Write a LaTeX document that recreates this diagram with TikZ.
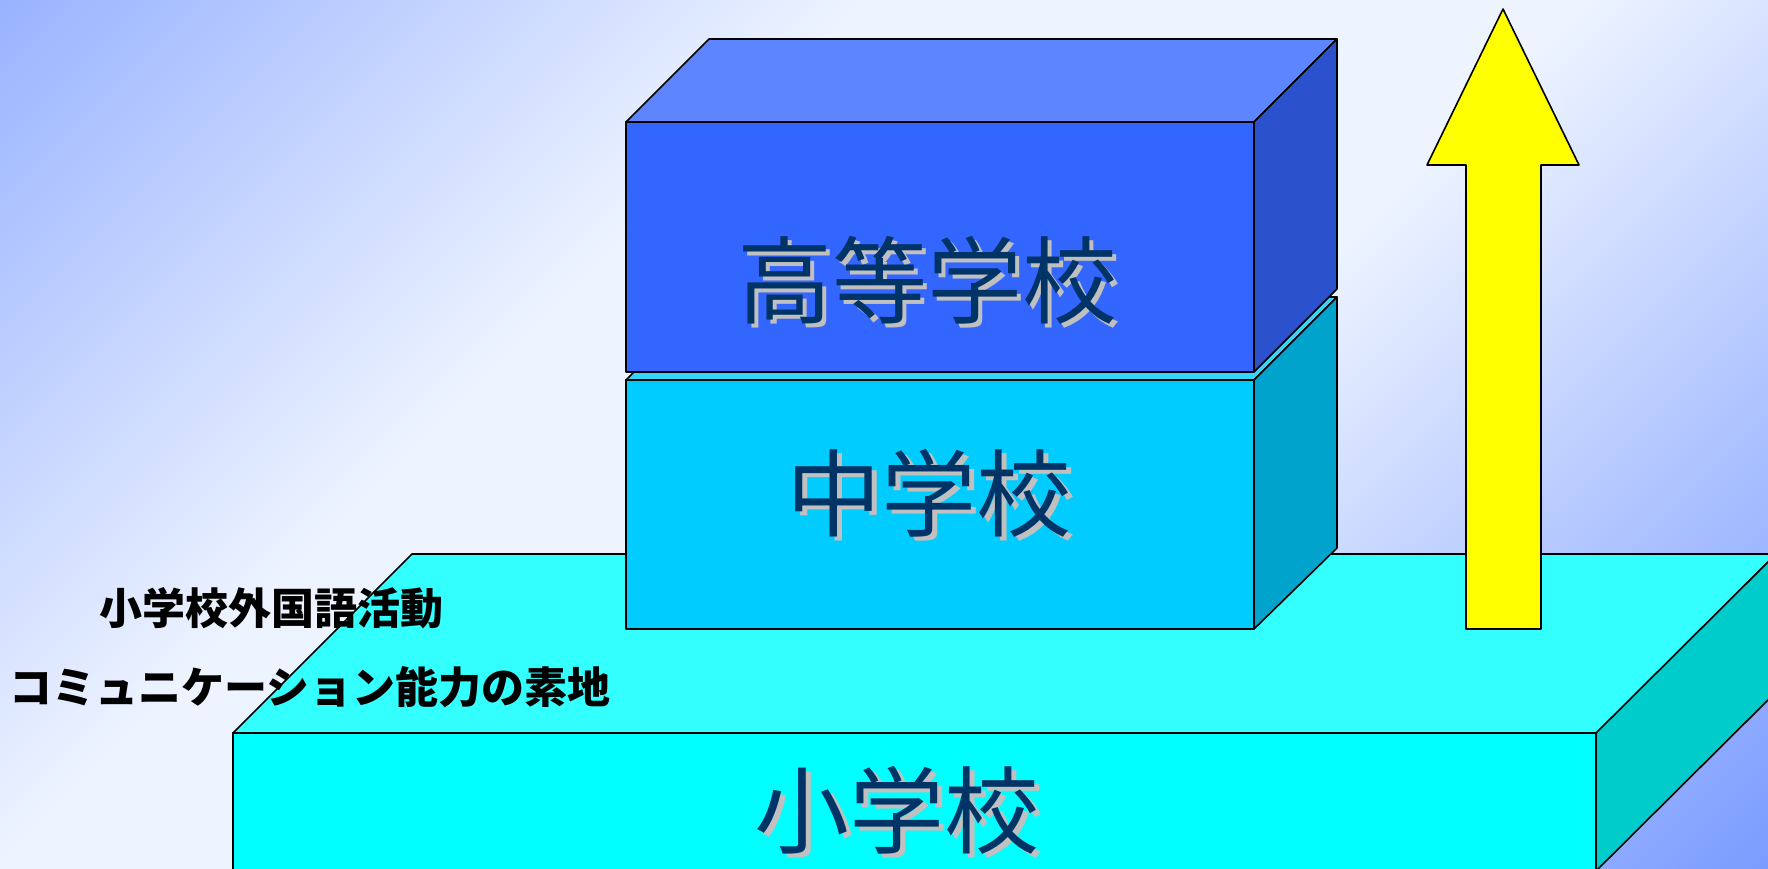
\documentclass[tikz,border=0pt]{standalone}
\usepackage{fontspec}
\newfontfamily\jpfont{Noto Sans CJK JP}

\definecolor{bgtl}{HTML}{99B3FF}
\definecolor{bgmid}{HTML}{EEF4FF}
\definecolor{bgbr}{HTML}{7B9CFF}
\definecolor{elemfront}{HTML}{00FFFF}
\definecolor{elemtop}{HTML}{33FFFF}
\definecolor{elemside}{HTML}{00CCCC}
\definecolor{midfront}{HTML}{00CCFF}
\definecolor{midtop}{HTML}{33D6FF}
\definecolor{midside}{HTML}{00A3CC}
\definecolor{highfront}{HTML}{3366FF}
\definecolor{hightop}{HTML}{5C85FF}
\definecolor{highside}{HTML}{2B52CC}
\definecolor{navy}{HTML}{003366}
\definecolor{shadowgray}{HTML}{C0C0C0}
\definecolor{arrowyellow}{HTML}{FFFF00}

\pgfdeclarehorizontalshading{bgfade}{100bp}{color(0bp)=(bgtl); color(14.6bp)=(bgtl); color(38bp)=(bgmid); color(57bp)=(bgmid); color(85.4bp)=(bgbr); color(100bp)=(bgbr)}

% text with a grey drop shadow
\newcommand{\shadowed}[1]{\rlap{\smash{\hspace{4.5pt}\raisebox{-4.5pt}{\color{shadowgray}#1}}}#1}

\tikzset{
  face/.style={draw=black, line width=1.6pt, line join=round},
  boxtext/.style={text=navy, inner sep=0pt, font=\jpfont\fontsize{95}{95}\selectfont},
  notetext/.style={text=black, inner sep=0pt, font=\jpfont\bfseries\fontsize{43}{43}\selectfont}
}

\begin{document}
\begin{tikzpicture}[x=1pt, y=-1pt]
        \useasboundingbox (0,0) rectangle (1768,868);
        \clip (0,0) rectangle (1768,868);
        \shade[shading=bgfade, shading angle=-45] (0,0) rectangle (1768,868);

        % 小学校
        \draw[face, fill=elemtop] (233,733) -- (412,554) -- (1776,554) -- (1597,733) -- cycle;
        \draw[face, fill=elemside] (1596,733) -- (1776,554) -- (1776,692) -- (1596,871) -- cycle;
        \draw[face, fill=elemfront] (233,733) rectangle (1596,871);

        % arrow
        \draw[face, fill=arrowyellow] (1466,629) -- (1466,165) -- (1427,165) -- (1503,9) -- (1579,165) -- (1541,165) -- (1541,629) -- cycle;

        % 中学校
        \draw[face, fill=midtop] (626,380) -- (709,297) -- (1337,297) -- (1254,380) -- cycle;
        \draw[face, fill=midside] (1254,380) -- (1337,297) -- (1337,548) -- (1254,629) -- cycle;
        \draw[face, fill=midfront] (626,380) rectangle (1254,629);

        % 高等学校
        \draw[face, fill=hightop] (626,122) -- (709,39) -- (1337,39) -- (1254,122) -- cycle;
        \draw[face, fill=highside] (1254,122) -- (1337,39) -- (1337,289) -- (1254,372) -- cycle;
        \draw[face, fill=highfront] (626,122) rectangle (1254,372);

        \node[boxtext] (high) at (927,280) {\shadowed{高等学校}};
        \node[boxtext] (mid) at (929,493) {\shadowed{中学校}};
        \node[boxtext] (elem) at (897,810) {\shadowed{小学校}};

        \node[notetext] (katsudo) at (271,608) {小学校外国語活動};
        \node[notetext] (soji) at (310,687) {コミュニケーション能力の素地};
\end{tikzpicture}
\end{document}
